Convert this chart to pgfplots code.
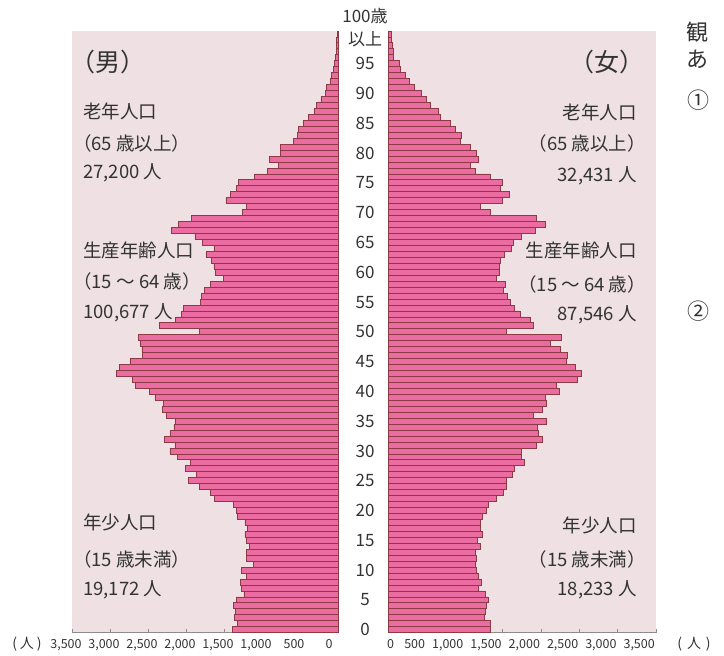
\documentclass[border=0pt]{standalone}
\usepackage{fontspec}
\setmainfont{Noto Sans CJK JP}
\usepackage{pgfplots}
\usepackage{pgfplotstable}
\pgfplotsset{compat=1.18}
\definecolor{bgpink}{HTML}{EFE1E3}
\definecolor{barpink}{HTML}{EA6CA0}
\definecolor{barline}{HTML}{8E3A44}
\definecolor{axgray}{HTML}{8C8C8C}
\definecolor{txt}{HTML}{333333}

\pgfplotstableread{
age m f
0 1386 1332
1 1325 1341
2 1368 1254
3 1355 1267
4 1377 1288
5 1342 1310
6 1237 1267
7 1276 1184
8 1289 1214
9 1202 1175
10 1276 1158
11 1114 1136
12 1202 1149
13 1202 1145
14 1167 1210
15 1202 1167
16 1224 1228
17 1193 1210
18 1224 1201
19 1320 1236
20 1342 1280
21 1377 1315
22 1627 1419
23 1684 1506
24 1825 1541
25 1969 1550
26 1860 1628
27 2009 1650
28 1947 1776
29 2110 1737
30 2211 1746
31 2145 1933
32 2285 2020
33 2202 1963
34 2158 1950
35 2145 2063
36 2263 1898
37 2307 2015
38 2298 2072
39 2408 2059
40 2482 2233
41 2671 2203
42 2702 2477
43 2912 2529
44 2877 2442
45 2737 2333
46 2570 2342
47 2579 2246
48 2596 2116
49 2627 2259
50 1825 1541
51 2355 1898
52 2145 1854
53 2057 1724
54 2035 1650
55 1807 1593
56 1794 1563
57 1759 1506
58 1675 1528
59 1509 1410
60 1610 1454
61 1632 1454
62 1662 1463
63 1737 1515
64 1632 1606
65 1781 1637
66 1882 1745
67 2189 1920
68 2101 2050
69 1925 1941
70 1254 1341
71 1202 1210
72 1474 1493
73 1421 1580
74 1333 1463
75 1311 1493
76 1105 1332
77 930 1145
78 785 1080
79 903 1180
80 763 1158
81 754 1071
82 588 940
83 531 953
84 522 875
85 456 810
86 390 688
87 316 657
88 281 548
89 224 496
90 162 431
91 149 340
92 96 279
93 83 222
94 61 165
95 48 148
96 35 75
97 26 65
98 22 55
99 18 45
100 9 40
}\pop

\pgfplotsset{pyr/.style={
  scale only axis, anchor=south west,
  height=601.7pt, ymin=-0.5, ymax=100.5, xmin=0, xmax=3500,
  xbar, bar width=5.957pt, bar shift=0pt,
  axis background/.style={fill=bgpink},
  axis x line*=bottom,
  axis line style={draw=axgray, line width=1pt, -},
  xtick style={draw=axgray, line width=0.8pt},
  tick align=inside, major tick length=4pt,
  xtick={500,1000,...,3500},
  /pgf/number format/1000 sep={,},
  /pgf/number format/assume math mode=true,
  xticklabel style={font=\fontsize{12.5}{12.5}\selectfont, text=txt, inner xsep=0pt, yshift=-3pt},
  extra x ticks={0},
  extra x tick labels={0},
  clip=false,
}}

\begin{document}
\begin{tikzpicture}[x=1pt,y=1pt]
\useasboundingbox (0,0) rectangle (724,656);
% male
\begin{axis}[pyr, at={(72pt,23.3pt)}, width=266pt, x dir=reverse,
  axis y line=none,
  ytick=\empty,
  xticklabel style={anchor=north, xshift=-6pt},
  extra x tick style={grid=major, major grid style={draw=axgray, line width=1.2pt}, xticklabel style={anchor=north, xshift=-3pt}},
]
\addplot[fill=barpink, draw=barline, line width=0.9pt] table[x=m, y=age] {\pop};
\end{axis}
% female
\begin{axis}[pyr, at={(388pt,23.3pt)}, width=268pt,
  axis y line*=left,
  ytick={0,5,...,95},
  ytick style={draw=none},
  yticklabel style={font=\fontsize{17}{17}\selectfont, text=txt, anchor=center, xshift=-23pt},
  extra y ticks={100},
  extra y tick labels={100歳\\以上},
  extra y tick style={major tick length=0pt, ytick style={draw=none}, yticklabel style={align=center, yshift=6pt, font=\fontsize{17}{23}\selectfont}},
  xticklabel style={anchor=north east, xshift=-1pt},
  extra x tick style={xticklabel style={anchor=north west, xshift=0pt}},
]
\addplot[fill=barpink, draw=barline, line width=0.9pt] table[x=f, y=age] {\pop};
\end{axis}

\begin{scope}[every node/.style={text=txt, inner sep=0pt}]
\def\fs{\fontsize{18.5}{18.5}\selectfont}
% left panel
\node[anchor=west, font=\fontsize{25}{25}\selectfont] at (70,594) {（男）};
\node[anchor=west, font=\fs] at (83,545) {老年人口};
\node[anchor=west, font=\fs] at (73,513) {（65 歳以上）};
\node[anchor=west, font=\fs] at (83,483) {27,200 人};
\node[anchor=west, font=\fs] at (83,406) {生産年齢人口};
\node[anchor=west, font=\fs] at (73,375) {（15 〜 64 歳）};
\node[anchor=west, font=\fs] at (83,343) {100,677 人};
\node[anchor=west, font=\fs] at (83,134) {年少人口};
\node[anchor=west, font=\fs] at (73,97) {（15 歳未満）};
\node[anchor=west, font=\fs] at (83,66) {19,172 人};
% right panel
\node[anchor=east, font=\fontsize{25}{25}\selectfont] at (645,594) {（女）};
\node[anchor=east, font=\fs] at (637,544) {老年人口};
\node[anchor=east, font=\fs] at (646,513) {（65 歳以上）};
\node[anchor=east, font=\fs] at (637,480) {32,431 人};
\node[anchor=east, font=\fs] at (637,406) {生産年齢人口};
\node[anchor=east, font=\fs] at (646,372) {（15 〜 64 歳）};
\node[anchor=east, font=\fs] at (637,341) {87,546 人};
\node[anchor=east, font=\fs] at (637,131) {年少人口};
\node[anchor=east, font=\fs] at (646,97) {（15 歳未満）};
\node[anchor=east, font=\fs] at (637,66) {18,233 人};
% units
\node[font=\fontsize{14}{14}\selectfont] at (27,12) {(\hspace{3pt}人\hspace{3pt})};
\node[font=\fontsize{14}{14}\selectfont] at (694,12) {(\hspace{5pt}人\hspace{5pt})};
% neighbouring text cut by the frame
\node[anchor=west, font=\fontsize{22}{22}\selectfont] at (686,624) {観};
\node[anchor=west, font=\fontsize{22}{22}\selectfont] at (686,597) {あ};
\node[anchor=west, font=\fontsize{22}{22}\selectfont] at (687,556) {①};
\node[anchor=west, font=\fontsize{22}{22}\selectfont] at (687,345) {②};
\end{scope}
\end{tikzpicture}
\end{document}
